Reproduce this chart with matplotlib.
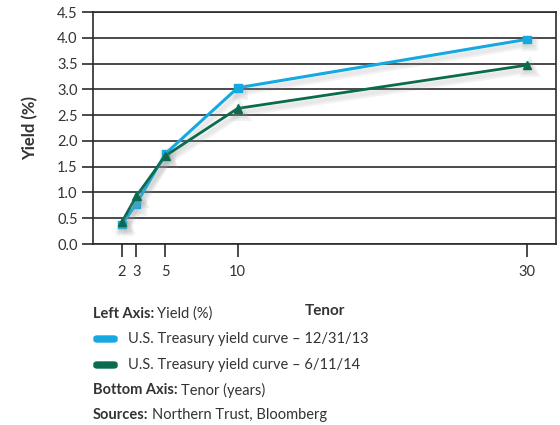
import matplotlib
matplotlib.use("Agg")
import matplotlib.pyplot as plt
import matplotlib.patheffects as pe
from matplotlib.patches import FancyBboxPatch

plt.rcParams['font.family'] = ['Lato', 'DejaVu Sans']

tenor = [2, 3, 5, 10, 30]
yield_dec13 = [0.38, 0.78, 1.75, 3.03, 3.97]
yield_jun14 = [0.43, 0.93, 1.71, 2.63, 3.47]
y_ticks = [0.0, 0.5, 1.0, 1.5, 2.0, 2.5, 3.0, 3.5, 4.0, 4.5]
label_dec13 = "U.S. Treasury yield curve \u2013 12/31/13"
label_jun14 = "U.S. Treasury yield curve \u2013 6/11/14"

BLUE = "#14a9e1"
GREEN = "#0a6b4e"
GRID = "#2b2b2b"
TXT = "#333333"
FS = 10.5

fig = plt.figure(figsize=(5.6, 4.25), dpi=100)
ax = fig.add_axes([93/560, 1 - 244/425, (556 - 93)/560, (244 - 12)/425])

# soft drop shadow under each curve
shadow = [pe.SimpleLineShadow(offset=(2, -3), shadow_color="#999999", alpha=0.12, linewidth=6),
          pe.SimpleLineShadow(offset=(2, -3), shadow_color="#999999", alpha=0.10, linewidth=3),
          pe.Normal()]

ax.plot(tenor, yield_dec13, color=BLUE, lw=2.2, marker="s", ms=5.5,
        path_effects=shadow, zorder=3)
ax.plot(tenor, yield_jun14, color=GREEN, lw=2.0, marker="^", ms=6,
        path_effects=shadow, zorder=4)

ax.set_xlim(0, 32)
ax.set_ylim(0, 4.5)
ax.set_yticks(y_ticks)
ax.set_yticklabels([f"{v:.1f}" for v in y_ticks])
ax.set_xticks(tenor)
ax.set_xticklabels([str(t) for t in tenor])

for v in y_ticks:
    ax.axhline(v, color=GRID, lw=1.2, zorder=1)
for s in ax.spines.values():
    s.set_color(GRID)
    s.set_linewidth(1.2)

ax.tick_params(axis="y", direction="out", length=8, width=1.2, color=GRID,
               labelsize=10.5, labelcolor=TXT, pad=3)
ax.tick_params(axis="x", direction="out", length=9, width=1.2, color=GRID,
               labelsize=10.5, labelcolor=TXT, pad=6)

fig.text(30/560, 1 - 128/425, "Yield (%)", rotation=90, ha="center", va="center",
         fontsize=12, fontweight="bold", color=TXT)
fig.text(325/560, 1 - 311/425, "Tenor", ha="center", va="center",
         fontsize=11, fontweight="bold", color=TXT)

def label_line(y, bold, rest):
    t = fig.text(93/560, 1 - y/425, bold, ha="left", va="center",
                 fontsize=FS, fontweight="bold", color=TXT)
    fig.canvas.draw()
    bb = t.get_window_extent()
    fig.text(bb.x1/560 + 3/560, 1 - y/425, rest, ha="left", va="center",
             fontsize=FS, color=TXT)

label_line(314, "Left Axis:", "Yield (%)")
label_line(390, "Bottom Axis:", "Tenor (years)")
label_line(415, "Sources:", "Northern Trust, Bloomberg")

for y, col, lab in [(339, BLUE, label_dec13), (365, GREEN, label_jun14)]:
    fig.patches.append(FancyBboxPatch((94/560, (1 - y/425) - 3/425), 23/560, 6/425,
                                      boxstyle="round,pad=0,rounding_size=0.006",
                                      transform=fig.transFigure, color=col,
                                      mutation_aspect=425/560))
    fig.text(128/560, 1 - y/425, lab, ha="left", va="center",
             fontsize=FS, color=TXT)

fig.savefig("out.png", dpi=100)
